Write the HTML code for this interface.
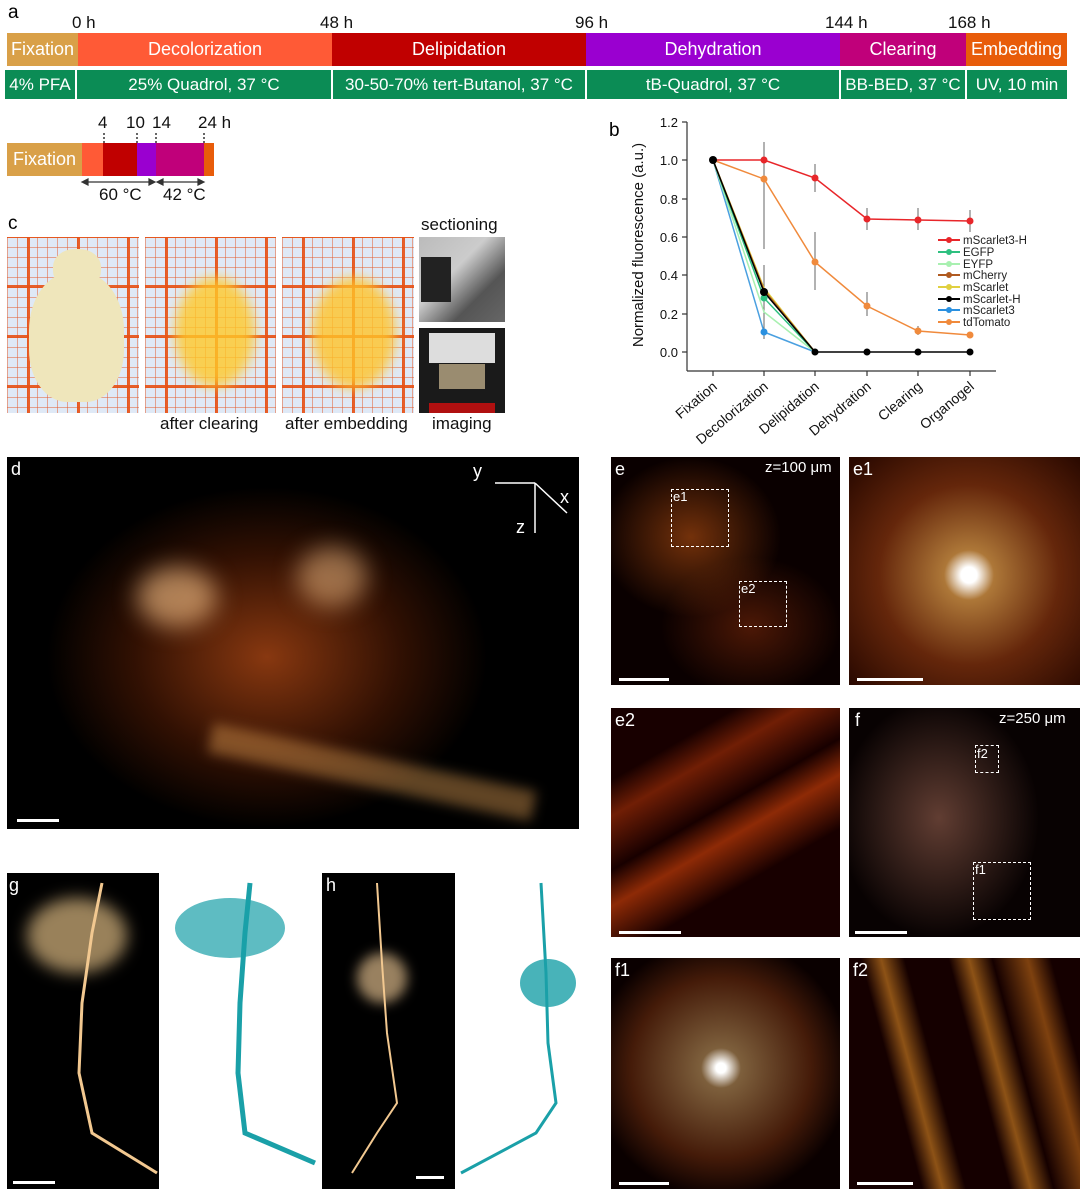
<!DOCTYPE html>
<html><head><meta charset="utf-8"><style>
body{margin:0;width:1080px;height:1189px;background:#fff;position:relative;overflow:hidden;font-family:"Liberation Sans",sans-serif;}
.a{position:absolute;}
.seg{position:absolute;color:#fff;font-size:18px;text-align:center;line-height:33px;height:33px;top:33px;}
.g{position:absolute;top:70px;height:29px;line-height:29px;background:#0b8c55;color:#fff;font-size:17px;text-align:center;}
.t{position:absolute;font-size:17px;color:#111;}
.lab{position:absolute;font-size:19px;color:#000;}
.grid{position:absolute;background-color:#dfe9f6;
background-image:linear-gradient(90deg,rgba(230,80,20,.9) 3px,transparent 3px),linear-gradient(rgba(230,80,20,.9) 3px,transparent 3px),linear-gradient(90deg,rgba(230,90,40,.5) 1px,transparent 1px),linear-gradient(rgba(230,90,40,.5) 1px,transparent 1px);
background-size:50px 50px,50px 50px,10px 10px,10px 10px;background-position:20px 0,0 -2px,0 0,0 0;}
.dk{position:absolute;background:#000;overflow:hidden;}
.w{position:absolute;color:#fff;font-size:18px;}
.sb{position:absolute;height:3px;background:#fff;}
</style></head><body>
<div class="lab" style="left:8px;top:2px">a</div>
<div class="t" style="left:72px;top:13px">0 h</div>
<div class="t" style="left:320px;top:13px">48 h</div>
<div class="t" style="left:575px;top:13px">96 h</div>
<div class="t" style="left:825px;top:13px">144 h</div>
<div class="t" style="left:948px;top:13px">168 h</div>
<div class="seg" style="left:7px;width:71px;background:#d9a048">Fixation</div>
<div class="seg" style="left:78px;width:254px;background:#ff5a36">Decolorization</div>
<div class="seg" style="left:332px;width:254px;background:#c00000">Delipidation</div>
<div class="seg" style="left:586px;width:254px;background:#9a00d0">Dehydration</div>
<div class="seg" style="left:840px;width:126px;background:#c0007a">Clearing</div>
<div class="seg" style="left:966px;width:101px;background:#e85c0a">Embedding</div>
<div class="g" style="left:5px;width:70px">4% PFA</div>
<div class="g" style="left:77px;width:254px">25% Quadrol, 37 °C</div>
<div class="g" style="left:333px;width:252px">30-50-70% tert-Butanol, 37 °C</div>
<div class="g" style="left:587px;width:252px">tB-Quadrol, 37 °C</div>
<div class="g" style="left:841px;width:124px">BB-BED, 37 °C</div>
<div class="g" style="left:967px;width:100px">UV, 10 min</div>
<div class="t" style="left:98px;top:113px">4</div><div class="t" style="left:126px;top:113px">10</div><div class="t" style="left:152px;top:113px">14</div><div class="t" style="left:198px;top:113px">24 h</div>
<svg class="a" style="left:0;top:0" width="240" height="210"><g stroke="#333" stroke-dasharray="2,2" stroke-width="1.5"><line x1="104" y1="133" x2="104" y2="143"/><line x1="137" y1="133" x2="137" y2="143"/><line x1="156" y1="133" x2="156" y2="143"/><line x1="204" y1="133" x2="204" y2="143"/></g>
<g stroke="#333" stroke-width="1.2" fill="#333"><line x1="84" y1="182" x2="153" y2="182"/><line x1="159" y1="182" x2="202" y2="182"/><path d="M82 182l6-3v6z M155 182l-6-3v6z M157 182l6-3v6z M204 182l-6-3v6z"/></g></svg>
<div class="seg" style="left:7px;top:143px;width:75px;background:#d9a048">Fixation</div>
<div class="a" style="left:82px;top:143px;width:21px;height:33px;background:#ff5a36"></div>
<div class="a" style="left:103px;top:143px;width:34px;height:33px;background:#c00000"></div>
<div class="a" style="left:137px;top:143px;width:19px;height:33px;background:#9a00d0"></div>
<div class="a" style="left:156px;top:143px;width:48px;height:33px;background:#c0007a"></div>
<div class="a" style="left:204px;top:143px;width:10px;height:33px;background:#e85c0a"></div>
<div class="t" style="left:99px;top:185px">60 °C</div><div class="t" style="left:163px;top:185px">42 °C</div>

<div class="lab" style="left:8px;top:213px">c</div>
<div class="t" style="left:421px;top:215px">sectioning</div>
<div class="grid" style="left:7px;top:237px;width:132px;height:176px"><div class="a" style="left:22px;top:35px;width:95px;height:130px;border-radius:45% 45% 40% 40%;background:#efe6bb"></div><div class="a" style="left:46px;top:12px;width:48px;height:40px;border-radius:45%;background:#efe6bb"></div></div>
<div class="grid" style="left:145px;top:237px;width:131px;height:176px"><div class="a" style="left:30px;top:40px;width:80px;height:110px;border-radius:50%;background:rgba(255,200,40,.8);filter:blur(6px)"></div></div>
<div class="grid" style="left:282px;top:237px;width:132px;height:176px"><div class="a" style="left:30px;top:40px;width:84px;height:112px;border-radius:50%;background:rgba(255,195,40,.8);filter:blur(6px)"></div></div>
<div class="a" style="left:419px;top:237px;width:86px;height:85px;background:linear-gradient(135deg,#bbb 0%,#ccc 40%,#555 70%,#666)"><div class="a" style="left:2px;top:20px;width:30px;height:45px;background:#222"></div></div>
<div class="a" style="left:419px;top:328px;width:86px;height:85px;background:#1a1a1a"><div class="a" style="left:10px;top:5px;width:66px;height:30px;background:#ddd"></div><div class="a" style="left:20px;top:36px;width:46px;height:25px;background:#9a8c70"></div><div class="a" style="left:10px;top:75px;width:66px;height:10px;background:#b01010"></div></div>
<div class="t" style="left:160px;top:414px">after clearing</div>
<div class="t" style="left:285px;top:414px">after embedding</div>
<div class="t" style="left:432px;top:414px">imaging</div>

<div class="lab" style="left:609px;top:120px">b</div>
<svg class="a" style="left:600px;top:110px" width="480" height="340" font-family="Liberation Sans" font-size="13">
<g transform="translate(-600,-110)">
<g stroke="#333" stroke-width="1.2" fill="none"><line x1="687" y1="122" x2="687" y2="371"/><line x1="687" y1="371" x2="996" y2="371"/></g>
<g stroke="#333" stroke-width="1.2">
<line x1="682" y1="122" x2="687" y2="122"/><line x1="682" y1="160" x2="687" y2="160"/><line x1="682" y1="199" x2="687" y2="199"/><line x1="682" y1="237" x2="687" y2="237"/><line x1="682" y1="275" x2="687" y2="275"/><line x1="682" y1="314" x2="687" y2="314"/><line x1="682" y1="352" x2="687" y2="352"/>
<line x1="713" y1="371" x2="713" y2="376"/><line x1="764" y1="371" x2="764" y2="376"/><line x1="815" y1="371" x2="815" y2="376"/><line x1="867" y1="371" x2="867" y2="376"/><line x1="918" y1="371" x2="918" y2="376"/><line x1="970" y1="371" x2="970" y2="376"/></g>
<g text-anchor="end" fill="#111"><text x="678" y="127">1.2</text><text x="678" y="165">1.0</text><text x="678" y="204">0.8</text><text x="678" y="242">0.6</text><text x="678" y="280">0.4</text><text x="678" y="319">0.2</text><text x="678" y="357">0.0</text></g>
<text transform="translate(643,245) rotate(-90)" text-anchor="middle" font-size="15" fill="#111">Normalized fluorescence (a.u.)</text>
<g text-anchor="end" fill="#111" font-size="14"><text transform="translate(718,388) rotate(-40)">Fixation</text><text transform="translate(769,388) rotate(-40)">Decolorization</text><text transform="translate(820,388) rotate(-40)">Delipidation</text><text transform="translate(872,388) rotate(-40)">Dehydration</text><text transform="translate(923,388) rotate(-40)">Clearing</text><text transform="translate(975,388) rotate(-40)">Organogel</text></g>
<g stroke="#666" stroke-width="1"><line x1="764" y1="142" x2="764" y2="178"/><line x1="764" y1="172" x2="764" y2="249"/><line x1="815" y1="164" x2="815" y2="192"/><line x1="815" y1="232" x2="815" y2="290"/><line x1="867" y1="208" x2="867" y2="230"/><line x1="867" y1="292" x2="867" y2="316"/><line x1="918" y1="208" x2="918" y2="230"/><line x1="918" y1="326" x2="918" y2="335"/><line x1="970" y1="210" x2="970" y2="232"/><line x1="764" y1="265" x2="764" y2="339"/></g>
<polyline fill="none" stroke="#4aa0e0" stroke-width="1.5" points="713,160 764,332 815,352"/>
<polyline fill="none" stroke="#a8f0b0" stroke-width="1.5" points="713,160 764,312 815,352"/>
<polyline fill="none" stroke="#2ec080" stroke-width="1.5" points="713,160 764,298 815,352"/>
<polyline fill="none" stroke="#e0d040" stroke-width="1.5" points="713,160 764,288 815,352"/>
<polyline fill="none" stroke="#b05a20" stroke-width="1.5" points="713,160 764,290 815,352"/>
<polyline fill="none" stroke="#000" stroke-width="1.5" points="713,160 764,292 815,352 867,352 918,352 970,352"/>
<polyline fill="none" stroke="#f08a3c" stroke-width="1.5" points="713,160 764,179 815,262 867,306 918,331 970,335"/>
<polyline fill="none" stroke="#e8262a" stroke-width="1.5" points="713,160 764,160 815,178 867,219 918,220 970,221"/>
<g fill="#e8262a"><circle cx="764" cy="160" r="3.5"/><circle cx="815" cy="178" r="3.5"/><circle cx="867" cy="219" r="3.5"/><circle cx="918" cy="220" r="3.5"/><circle cx="970" cy="221" r="3.5"/></g>
<g fill="#f08a3c"><circle cx="764" cy="179" r="3.5"/><circle cx="815" cy="262" r="3.5"/><circle cx="867" cy="306" r="3.5"/><circle cx="918" cy="331" r="3.5"/><circle cx="970" cy="335" r="3.5"/></g>
<circle cx="764" cy="332" r="3.5" fill="#2a90e0"/><circle cx="764" cy="298" r="3.5" fill="#2ec080"/>
<g fill="#000"><circle cx="713" cy="160" r="4"/><circle cx="764" cy="292" r="4"/><circle cx="815" cy="352" r="3.5"/><circle cx="867" cy="352" r="3.5"/><circle cx="918" cy="352" r="3.5"/><circle cx="970" cy="352" r="3.5"/></g>
<g stroke-width="2" font-size="11.5" fill="#222">
<line x1="938" y1="240" x2="960" y2="240" stroke="#e8262a"/><circle cx="949" cy="240" r="3" fill="#e8262a"/><text x="963" y="244">mScarlet3-H</text>
<line x1="938" y1="252" x2="960" y2="252" stroke="#2ec080"/><circle cx="949" cy="252" r="3" fill="#2ec080"/><text x="963" y="256">EGFP</text>
<line x1="938" y1="264" x2="960" y2="264" stroke="#a8f0b0"/><circle cx="949" cy="264" r="3" fill="#a8f0b0"/><text x="963" y="268">EYFP</text>
<line x1="938" y1="275" x2="960" y2="275" stroke="#b05a20"/><circle cx="949" cy="275" r="3" fill="#b05a20"/><text x="963" y="279">mCherry</text>
<line x1="938" y1="287" x2="960" y2="287" stroke="#e0d040"/><circle cx="949" cy="287" r="3" fill="#e0d040"/><text x="963" y="291">mScarlet</text>
<line x1="938" y1="299" x2="960" y2="299" stroke="#000"/><circle cx="949" cy="299" r="3" fill="#000"/><text x="963" y="303">mScarlet-H</text>
<line x1="938" y1="310" x2="960" y2="310" stroke="#2a90e0"/><circle cx="949" cy="310" r="3" fill="#2a90e0"/><text x="963" y="314">mScarlet3</text>
<line x1="938" y1="322" x2="960" y2="322" stroke="#f08a3c"/><circle cx="949" cy="322" r="3" fill="#f08a3c"/><text x="963" y="326">tdTomato</text>
</g></g></svg>

<div class="dk" style="left:7px;top:457px;width:572px;height:372px;background:radial-gradient(ellipse 220px 170px at 260px 200px,rgba(170,70,20,.8),rgba(90,30,5,.55) 60%,transparent 100%),#000">
<div class="w" style="left:4px;top:2px">d</div>
<div class="a" style="left:130px;top:110px;width:80px;height:60px;border-radius:50%;background:rgba(255,200,140,.6);filter:blur(12px)"></div>
<div class="a" style="left:290px;top:90px;width:70px;height:60px;border-radius:50%;background:rgba(255,200,140,.5);filter:blur(12px)"></div>
<div class="a" style="left:200px;top:300px;width:330px;height:30px;transform:rotate(12deg);background:rgba(240,170,90,.4);filter:blur(6px)"></div>
<div class="w" style="left:466px;top:4px">y</div><div class="w" style="left:553px;top:30px">x</div><div class="w" style="left:509px;top:60px">z</div>
<svg class="a" style="left:480px;top:18px" width="90" height="70"><g stroke="#fff" stroke-width="1.5" fill="none"><line x1="48" y1="8" x2="8" y2="8"/><line x1="48" y1="8" x2="48" y2="58"/><line x1="48" y1="8" x2="80" y2="38"/></g></svg>
<div class="sb" style="left:10px;top:362px;width:42px"></div></div>

<div class="dk" style="left:611px;top:457px;width:229px;height:228px;background:radial-gradient(ellipse 90px 80px at 80px 80px,rgba(160,70,15,.7),transparent),radial-gradient(ellipse 90px 70px at 140px 170px,rgba(120,40,10,.6),transparent),#0a0000">
<div class="w" style="left:4px;top:2px">e</div><div class="w" style="left:154px;top:2px;font-size:15px">z=100 μm</div>
<div class="a" style="left:60px;top:32px;width:56px;height:56px;border:1px dashed #fff"></div><div class="w" style="left:62px;top:32px;font-size:13px">e1</div>
<div class="a" style="left:128px;top:124px;width:46px;height:44px;border:1px dashed #fff"></div><div class="w" style="left:130px;top:124px;font-size:13px">e2</div>
<div class="sb" style="left:8px;top:221px;width:50px"></div></div>
<div class="dk" style="left:849px;top:457px;width:231px;height:228px;background:radial-gradient(circle at 120px 118px,#fff 8px,rgba(240,170,80,.7) 25px,rgba(170,70,20,.55) 90px,rgba(60,15,0,.6) 160px),#100000">
<div class="w" style="left:4px;top:2px">e1</div><div class="sb" style="left:8px;top:221px;width:66px"></div></div>
<div class="dk" style="left:611px;top:708px;width:229px;height:229px;background:linear-gradient(-30deg,transparent 30%,rgba(220,70,10,.6) 45%,transparent 55%,rgba(200,60,10,.5) 70%,transparent 80%),#180000">
<div class="w" style="left:4px;top:2px">e2</div><div class="sb" style="left:8px;top:223px;width:62px"></div></div>
<div class="dk" style="left:849px;top:708px;width:231px;height:229px;background:radial-gradient(ellipse 100px 120px at 90px 110px,rgba(170,110,90,.55),transparent),#080202">
<div class="w" style="left:6px;top:2px">f</div><div class="w" style="left:150px;top:2px;font-size:15px">z=250 μm</div>
<div class="a" style="left:126px;top:37px;width:22px;height:26px;border:1px dashed #fff"></div><div class="w" style="left:128px;top:38px;font-size:13px">f2</div>
<div class="a" style="left:124px;top:154px;width:56px;height:56px;border:1px dashed #fff"></div><div class="w" style="left:126px;top:154px;font-size:13px">f1</div>
<div class="sb" style="left:6px;top:223px;width:52px"></div></div>
<div class="dk" style="left:611px;top:958px;width:229px;height:231px;background:radial-gradient(circle at 110px 110px,#fff 5px,rgba(240,190,120,.5) 20px,rgba(140,60,20,.45) 90px,transparent 130px),#0a0000">
<div class="w" style="left:4px;top:2px">f1</div><div class="sb" style="left:8px;top:224px;width:50px"></div></div>
<div class="dk" style="left:849px;top:958px;width:231px;height:231px;background:linear-gradient(75deg,transparent 25%,rgba(240,150,40,.55) 32%,transparent 40%,transparent 55%,rgba(240,150,40,.55) 62%,transparent 70%,rgba(230,130,30,.5) 82%,transparent 90%),#150000">
<div class="w" style="left:4px;top:2px">f2</div><div class="sb" style="left:8px;top:224px;width:56px"></div></div>

<div class="dk" style="left:7px;top:873px;width:152px;height:316px">
<div class="w" style="left:2px;top:2px">g</div>
<div class="a" style="left:20px;top:25px;width:100px;height:75px;border-radius:50%;background:rgba(255,215,150,.6);filter:blur(8px)"></div>
<svg class="a" style="left:0;top:0" width="152" height="316"><path d="M95 10 L85 60 L75 130 L72 200 L85 260 L150 300" stroke="#f2c890" stroke-width="3" fill="none"/></svg>
<div class="sb" style="left:6px;top:308px;width:42px"></div></div>
<svg class="a" style="left:160px;top:873px" width="160" height="316"><path d="M90 10 L85 60 L80 130 L78 200 L85 260 L155 290" stroke="#1aa0a8" stroke-width="5" fill="none"/><ellipse cx="70" cy="55" rx="55" ry="30" fill="#1aa0a8" opacity=".7"/></svg>
<div class="dk" style="left:322px;top:873px;width:133px;height:316px">
<div class="w" style="left:4px;top:2px">h</div>
<div class="a" style="left:35px;top:80px;width:50px;height:50px;border-radius:50%;background:rgba(255,215,160,.6);filter:blur(6px)"></div>
<svg class="a" style="left:0;top:0" width="133" height="316"><path d="M55 10 L60 90 L65 160 L75 230 L55 260 L30 300" stroke="#f2c890" stroke-width="2" fill="none"/></svg>
<div class="sb" style="left:94px;top:303px;width:28px"></div></div>
<svg class="a" style="left:456px;top:873px" width="124" height="316"><path d="M85 10 L90 100 L92 170 L100 230 L80 260 L5 300" stroke="#1aa0a8" stroke-width="3" fill="none"/><ellipse cx="92" cy="110" rx="28" ry="24" fill="#1aa0a8" opacity=".8"/></svg>
</body></html>
